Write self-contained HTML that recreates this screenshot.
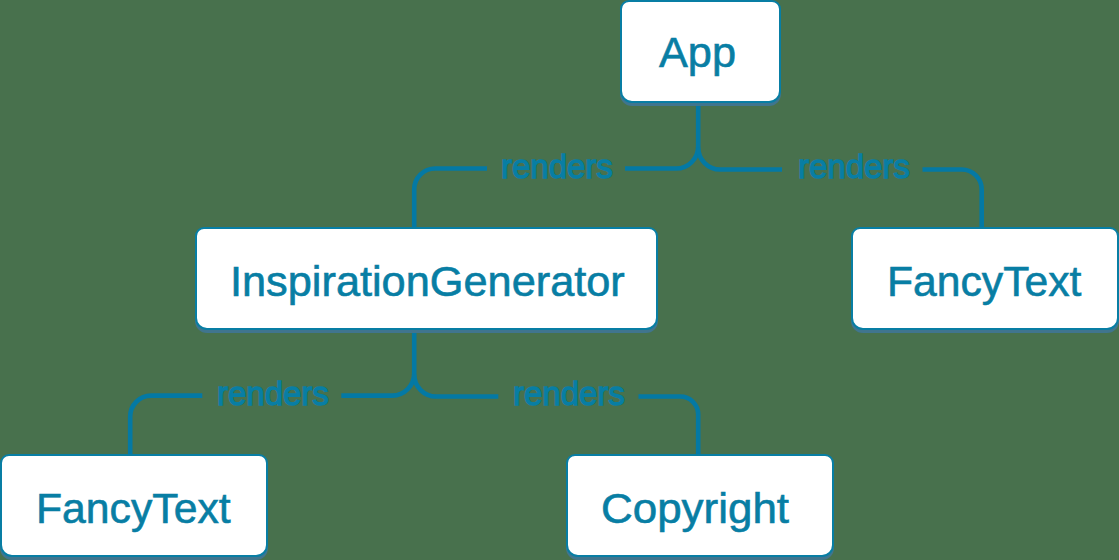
<!DOCTYPE html>
<html>
<head>
<meta charset="utf-8">
<style>
html,body{margin:0;padding:0;}
body{width:1119px;height:560px;overflow:hidden;position:relative;background:#48714d;font-family:"Liberation Sans",sans-serif;}
.box{position:absolute;box-sizing:border-box;height:103px;border:2px solid #087ea4;border-radius:9px 9px 12px 12px;background:#fff;box-shadow:0 3px 0 0 #40758e;}
.t{position:absolute;white-space:nowrap;color:#087ea4;font-size:42px;line-height:42px;transform-origin:0 0;-webkit-text-stroke:0.6px #087ea4;}
.r{position:absolute;white-space:nowrap;color:#087ea4;font-size:33.3px;line-height:34px;transform-origin:0 0;transform:scaleX(0.99);-webkit-text-stroke:1.3px #087ea4;}
svg{position:absolute;left:0;top:0;}
</style>
</head>
<body>
<svg width="1119" height="560" viewBox="0 0 1119 560">
<g fill="none" stroke="#0479a4" stroke-width="4.6">
<!-- top tree -->
<path d="M698.2 105 V146.5 A22 22 0 0 1 676.2 168.5 H625"/>
<path d="M698.2 147.5 A22 22 0 0 0 720.2 169.5 H782"/>
<path d="M487 168.5 H435.2 A21 21 0 0 0 414.2 189.5 V228"/>
<path d="M922.5 169.5 H961.7 A20 20 0 0 1 981.7 189.5 V228"/>
<!-- bottom tree -->
<path d="M414.2 332 V373.6 A22 22 0 0 1 392.2 395.6 H341.3"/>
<path d="M414.2 374.5 A22 22 0 0 0 436.2 396.5 H498.3"/>
<path d="M202.3 395.6 H151.2 A21 21 0 0 0 130.2 416.6 V455"/>
<path d="M638.5 396.5 H680.2 A18 18 0 0 1 698.2 414.5 V455"/>
</g>
</svg>

<div class="box" style="left:620px;top:0px;width:161px;"></div>
<div class="box" style="left:195px;top:227px;width:463px;"></div>
<div class="box" style="left:851px;top:227px;width:268px;"></div>
<div class="box" style="left:0px;top:454px;width:268px;"></div>
<div class="box" style="left:566px;top:454px;width:268px;"></div>

<span class="t" id="t1" style="left:659px;top:32px;transform:scaleX(1.03);">App</span>
<span class="t" id="t2" style="left:230.2px;top:261px;transform:scaleX(1.031);">InspirationGenerator</span>
<span class="t" id="t3" style="left:887px;top:261px;transform:scaleX(1.016);">FancyText</span>
<span class="t" id="t4" style="left:36px;top:488px;transform:scaleX(1.017);">FancyText</span>
<span class="t" id="t5" style="left:601.4px;top:488px;transform:scaleX(1.046);">Copyright</span>

<span class="r" id="r1" style="left:501px;top:150.2px;">renders</span>
<span class="r" id="r2" style="left:798px;top:150.2px;">renders</span>
<span class="r" id="r3" style="left:217px;top:377.2px;">renders</span>
<span class="r" id="r4" style="left:513.4px;top:377.2px;">renders</span>
</body>
</html>
